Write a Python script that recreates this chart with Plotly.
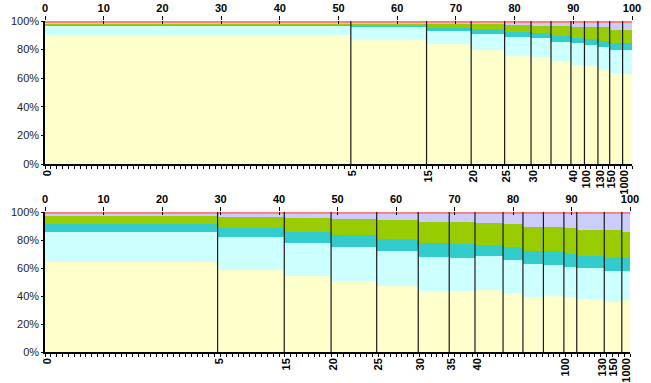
import plotly.graph_objects as go

# ---------------- data ----------------
layer_names = ["L1", "L2", "L3", "L4", "L5", "L6"]
layer_colors = ["#FFFFCC", "#CCFFFF", "#33CCCC", "#99CC00", "#CCCCFF", "#FF8080"]

# top panel: bar boundaries (cumulative %, 0..100)
top_edges = [0, 52.1, 65.0, 72.6, 78.3, 82.8, 86.2, 89.6, 91.9, 94.2, 96.2, 98.4, 100]
top_labels = ["0", "5", "15", "20", "25", "30", "", "40", "100", "130", "150", "1000"]
top_l1 = [90.5, 87.0, 84.0, 80.0, 75.8, 74.9, 71.8, 69.5, 68.3, 66.0, 63.6, 62.9]
top_l2 = [6.3, 8.9, 9.3, 11.2, 13.3, 13.0, 13.8, 15.2, 15.2, 16.1, 16.2, 16.6]
top_l3 = [0.5, 0.9, 1.9, 3.3, 3.5, 3.5, 4.0, 3.7, 3.7, 4.2, 4.6, 5.4]
top_l4 = [1.1, 1.7, 3.0, 3.5, 4.7, 5.4, 6.8, 7.5, 8.5, 9.6, 9.6, 8.6]
top_l5 = [0.3, 0.4, 0.7, 0.8, 1.3, 1.9, 2.2, 2.6, 2.8, 2.7, 4.6, 5.1]
top_l6 = [1.3, 1.1, 1.1, 1.2, 1.4, 1.3, 1.4, 1.5, 1.5, 1.4, 1.4, 1.4]

# bottom panel
bot_edges = [0, 29.5, 40.9, 48.9, 56.7, 63.8, 69.1, 73.5, 78.3, 81.7, 85.2, 88.7, 90.9, 95.6, 98.6, 100]
bot_label_pos = [0, 29.5, 40.9, 48.9, 56.7, 63.8, 69.1, 73.5, 88.7, 94.9, 96.9, 99.1]
bot_labels = ["0", "5", "15", "20", "25", "30", "35", "40", "100", "130", "150", "1000"]
bot_l1 = [64.6, 58.7, 54.6, 50.8, 46.8, 43.7, 43.7, 44.4, 42.0, 39.4, 40.1, 39.2, 38.2, 35.6, 37.3]
bot_l2 = [21.4, 23.3, 23.5, 24.3, 25.2, 24.2, 23.7, 24.0, 23.8, 23.5, 22.3, 21.8, 21.9, 22.1, 20.4]
bot_l3 = [5.7, 6.8, 7.9, 8.3, 8.5, 10.0, 9.8, 8.3, 9.0, 9.5, 9.8, 9.1, 8.8, 9.5, 9.5]
bot_l4 = [5.9, 7.9, 9.7, 11.8, 13.8, 14.8, 15.7, 15.2, 16.4, 16.9, 17.1, 18.7, 18.3, 19.8, 18.3]
bot_l5 = [1.2, 1.9, 2.9, 3.8, 4.7, 6.3, 6.1, 7.1, 7.8, 9.4, 9.5, 9.9, 11.4, 11.6, 13.1]
bot_l6 = [1.2, 1.4, 1.4, 1.0, 1.0, 1.0, 1.0, 1.0, 1.0, 1.2, 1.2, 1.3, 1.4, 1.4, 1.4]

top_axis_ticks = [0, 10, 20, 30, 40, 50, 60, 70, 80, 90, 100]
y_ticks = [0, 20, 40, 60, 80, 100]

# ---------------- figure ----------------
FONT = "Arial, Liberation Sans, sans-serif"
fig = go.Figure()


def add_panel(edges, layers, xa, ya, helper_axes):
    centers = [(edges[i] + edges[i + 1]) / 2 for i in range(len(edges) - 1)]
    widths = [edges[i + 1] - edges[i] for i in range(len(edges) - 1)]
    for name, col, vals in zip(layer_names, layer_colors, layers):
        fig.add_trace(go.Bar(x=centers, y=vals, width=widths, name=name,
                             marker=dict(color=col, line=dict(width=0)),
                             xaxis=xa, yaxis=ya, showlegend=False))
    lx, ly = [], []
    for e in edges[1:-1]:
        lx += [e, e, None]
        ly += [0, 100, None]
    fig.add_trace(go.Scatter(x=lx, y=ly, mode="lines", xaxis=xa, yaxis=ya,
                             line=dict(color="#1a1a1a", width=1.2),
                             showlegend=False, hoverinfo="skip"))
    # invisible helper traces so the overlaid axes are drawn
    for hx in helper_axes:
        fig.add_trace(go.Scatter(x=[edges[0], edges[-1]], y=[0, 0], mode="markers",
                                 marker=dict(opacity=0), xaxis=hx, yaxis=ya,
                                 showlegend=False, hoverinfo="skip"))


add_panel(top_edges, [top_l1, top_l2, top_l3, top_l4, top_l5, top_l6], "x", "y", ["x3", "x5"])
add_panel(bot_edges, [bot_l1, bot_l2, bot_l3, bot_l4, bot_l5, bot_l6], "x2", "y2", ["x4", "x6"])

W, H = 651, 383
ML, MR, MT, MB = 45, 19, 21, 31
pw = W - ML - MR
ph = H - MT - MB

top_axis_common = dict(range=[0, 100], side="top", tickmode="array",
                       tickvals=top_axis_ticks,
                       ticktext=[str(v) for v in top_axis_ticks],
                       ticks="outside", ticklen=4, tickcolor="#000",
                       showline=False, showgrid=False, zeroline=False,
                       tickfont=dict(family=FONT, size=11, color="#000", weight="bold"),
                       automargin=False, fixedrange=True)
top_inner_common = dict(range=[0, 100], side="top", tickmode="array",
                        tickvals=top_axis_ticks, showticklabels=False,
                        ticks="inside", ticklen=3, tickcolor="#000",
                        showline=False, showgrid=False, zeroline=False,
                        automargin=False, fixedrange=True)
cat_axis_common = dict(range=[0, 100], side="bottom", tickmode="array",
                       tickangle=-90, ticks="", showline=True, linecolor="#000",
                       linewidth=1.5, showgrid=False, zeroline=False,
                       ticklabelshift=2,
                       minor=dict(ticks="outside", ticklen=3, dtick=1, tick0=0,
                                  tickcolor="#000", showgrid=False),
                       tickfont=dict(family=FONT, size=11, color="#000", weight="bold"),
                       automargin=False, fixedrange=True)
y_common = dict(range=[0, 100], tickmode="array", tickvals=y_ticks,
                ticktext=[f"{v}%" for v in y_ticks], ticks="outside", ticklen=2,
                tickcolor="#000", showline=True, linecolor="#000", linewidth=1.5,
                showgrid=False, zeroline=False,
                tickfont=dict(family=FONT, size=11, color="#222"),
                automargin=False, fixedrange=True)

top_dom = [1 - 143 / ph, 1]
bot_dom = [0, 140 / ph]
bot_right = (630 - ML) / pw

fig.update_layout(
    width=W, height=H,
    margin=dict(l=ML, r=MR, t=MT, b=MB, pad=0),
    paper_bgcolor="white", plot_bgcolor="white",
    barmode="stack", bargap=0,
    showlegend=False,
    xaxis=dict(domain=[0, 1], anchor="y", **top_axis_common),
    xaxis3=dict(overlaying="x", anchor="y", tickvals=top_edges[:-1],
                ticktext=top_labels, **cat_axis_common),
    xaxis5=dict(overlaying="x", anchor="y", **top_inner_common),
    yaxis=dict(domain=top_dom, anchor="x", **y_common),
    xaxis2=dict(domain=[0, bot_right], anchor="y2", **top_axis_common),
    xaxis4=dict(overlaying="x2", anchor="y2", tickvals=bot_label_pos,
                ticktext=bot_labels, **cat_axis_common),
    xaxis6=dict(overlaying="x2", anchor="y2", **top_inner_common),
    yaxis2=dict(domain=bot_dom, anchor="x2", **y_common),
)

fig.write_html("out.html", config={"displayModeBar": False},
               post_script="document.body.style.margin='0';")
